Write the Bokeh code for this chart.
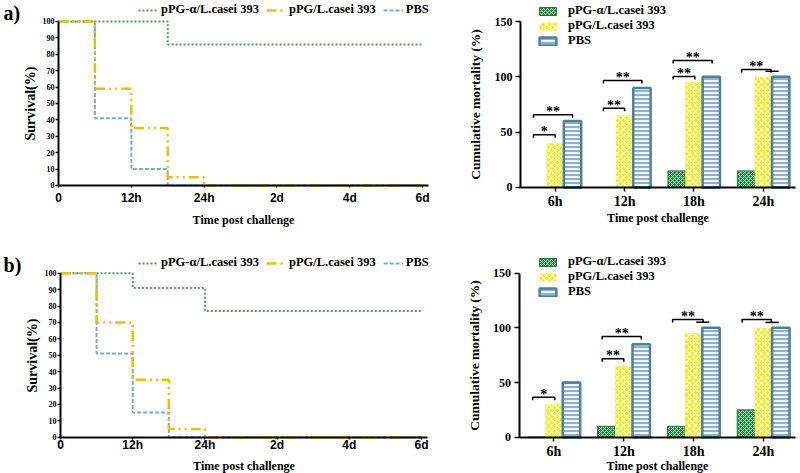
import numpy as np
from bokeh.plotting import figure
from bokeh.models import Range1d, FixedTicker, Legend, LegendItem, Label
from bokeh.layouts import column, row
from bokeh.embed import file_html
from bokeh.resources import INLINE
from bokeh.core.properties import value

SERIES = ["pPG-\u03b1/L.casei 393", "pPG/L.casei 393", "PBS"]
PANEL_TAGS = ["a)", "b)"]

# ---------------- survival curves (hours, survival %) ----------------
axis_hours = [0, 12, 24, 48, 96, 144]
axis_labels = ["0", "12h", "24h", "2d", "4d", "6d"]

a_green_t = [0, 18, 146]
a_green_s = [100, 86, 86]
a_yellow_t = [0, 6, 12, 18, 24, 146]
a_yellow_s = [100, 59, 35, 5, 0, 0]
a_blue_t = [0, 6, 12, 18, 146]
a_blue_s = [100, 41, 10, 0, 0]

b_green_t = [0, 12, 24, 146]
b_green_s = [100, 91, 77, 77]
b_yellow_t = [0, 6, 12, 18, 24, 146]
b_yellow_s = [100, 70, 35, 5, 0, 0]
b_blue_t = [0, 6, 12, 18, 146]
b_blue_s = [100, 51, 15, 0, 0]

# ---------------- cumulative mortality bars ----------------
bar_times = ["6h", "12h", "18h", "24h"]
a_green = [0, 0, 15, 15]
a_yellow = [40, 65, 95, 100]
a_pbs = [60, 90, 100, 100]
b_green = [0, 10, 10, 25]
b_yellow = [30, 65, 95, 100]
b_pbs = [50, 85, 100, 100]

# significance brackets: (group, from series pos, to series pos, height, label, end ticks)
a_brackets = [(0, -0.25, 1.0, 47.6, "*", True), (0, -0.25, 2.0, 65.7, "**", True),
              (1, -0.22, 1.0, 71.6, "**", True), (1, -0.22, 2.0, 96.7, "**", True),
              (2, -0.2, 1.05, 100.3, "**", True), (2, -0.2, 2.05, 114.7, "**", True),
              (3, -0.25, 1.44, 106.6, "**", True), (3, 1.12, 1.88, 105.0, "", False)]
b_brackets = [(0, -0.22, 1.05, 36.6, "*", True),
              (1, -0.24, 1.0, 71.7, "**", True), (1, -0.24, 2.0, 92.1, "**", True),
              (2, -0.2, 1.55, 107.7, "**", True), (2, 1.15, 1.9, 105.2, "", False),
              (3, -0.22, 1.46, 107.7, "**", True), (3, 1.12, 1.88, 105.0, "", False)]

SERIF = "Liberation Serif"
SANS = "Liberation Sans"
LINE_GREEN = "#4f9d5f"
LINE_YELLOW = "#f0c000"
LINE_BLUE = "#78a9dc"


def hpos(t):
    return np.interp(t, axis_hours, np.arange(len(axis_hours)))


def base_figure(width, height, xr, yr):
    p = figure(width=width, height=height, output_backend="svg", toolbar_location=None,
               x_range=Range1d(*xr), y_range=Range1d(*yr), min_border=0,
               min_border_left=0, min_border_right=0, min_border_top=0, min_border_bottom=0)
    p.grid.visible = False
    p.outline_line_color = None
    p.background_fill_color = "white"
    p.border_fill_color = "white"
    for ax in (p.xaxis, p.yaxis):
        ax.axis_line_color = "black"
        ax.axis_line_width = 2
        ax.major_tick_line_color = "black"
        ax.major_tick_line_width = 1.5
        ax.minor_tick_line_color = None
        ax.major_tick_in = 0
        ax.axis_label_text_font = SERIF
        ax.axis_label_text_font_style = "bold"
        ax.axis_label_text_color = "black"
        ax.major_label_text_color = "black"
        ax.major_label_text_font_style = "bold"
    return p


def survival_panel(green, yellow, blue, width, height, xr, yr, xstand, legend_loc, tag_xy, tag):
    p = base_figure(width, height, xr, yr)
    rg = p.step(x=hpos(green[0]), y=green[1], mode="after", line_color=LINE_GREEN,
                line_width=2, line_dash="2 2")
    rb = p.step(x=hpos(blue[0]), y=blue[1], mode="after", line_color=LINE_BLUE,
                line_width=2, line_dash="4 2")
    ry = p.step(x=hpos(yellow[0]), y=yellow[1], mode="after", line_color=LINE_YELLOW,
                line_width=2.5, line_dash="10 4 2 4 2 4")
    p.yaxis.fixed_location = 0
    p.yaxis.ticker = FixedTicker(ticks=list(range(0, 101, 10)))
    p.yaxis.bounds = (0, 100)
    p.yaxis.major_tick_out = 3
    p.yaxis.major_label_standoff = 1
    p.yaxis.major_label_text_font = SERIF
    p.yaxis.major_label_text_font_size = "8px"
    p.yaxis.axis_label = "Survival(%)"
    p.yaxis.axis_label_text_font_size = "14px"
    p.yaxis.axis_label_standoff = 2
    p.xaxis.fixed_location = 0
    p.xaxis.bounds = (0, 5.08)
    p.xaxis.ticker = FixedTicker(ticks=list(range(len(axis_labels))))
    p.xaxis.major_label_overrides = {i: lab for i, lab in enumerate(axis_labels)}
    p.xaxis.major_tick_out = 2
    p.xaxis.major_label_text_font = SANS
    p.xaxis.major_label_text_font_size = "12px"
    p.xaxis.major_label_standoff = xstand[0]
    p.xaxis.axis_label = "Time post challenge"
    p.xaxis.axis_label_text_font_size = "12px"
    p.xaxis.axis_label_standoff = xstand[1]
    legend = Legend(items=[LegendItem(label=SERIES[0], renderers=[rg]),
                           LegendItem(label=SERIES[1], renderers=[ry]),
                           LegendItem(label=SERIES[2], renderers=[rb])],
                    orientation="horizontal", location=legend_loc, margin=0, padding=0,
                    spacing=7, glyph_width=20, glyph_height=12, label_standoff=3,
                    background_fill_alpha=0, border_line_alpha=0,
                    label_text_font=SERIF, label_text_font_style="bold",
                    label_text_font_size="12.5px", label_text_color="black")
    p.add_layout(legend)
    p.add_layout(Label(x=tag_xy[0], y=tag_xy[1], text=tag, text_font=SERIF,
                       text_font_style="bold", text_font_size="20px",
                       text_baseline="middle", text_color="black"))
    return p


def bar_panel(green, yellow, pbs, brackets, width, height, xr, yr, xstand, legend_loc, px_per_unit):
    p = base_figure(width, height, xr, yr)
    idx = np.arange(len(bar_times))
    w = 0.25
    rg = p.vbar(x=idx - w, top=green, width=w, bottom=0, fill_color="#2e8b4e",
                line_color="#2a7040", line_width=1, hatch_pattern="diagonal_cross",
                hatch_color="#a6d8b0", hatch_scale=4, hatch_weight=1)
    ry = p.vbar(x=idx, top=yellow, width=w, bottom=0, fill_color="#f0ec1c",
                line_color=None, hatch_pattern="diagonal_cross",
                hatch_color="#fffce0", hatch_scale=6, hatch_weight=1.2)
    rp = p.vbar(x=idx + w, top=pbs, width=w, bottom=0, fill_color="#f2f6fa",
                line_color="#4e7f9b", line_width=2.5, hatch_pattern="horizontal_line",
                hatch_color="#6b9bbb", hatch_scale=4, hatch_weight=1.5)
    tick = 3.0 / px_per_unit
    xs, ys, tx, ty, tt = [], [], [], [], []
    for g, s1, s2, h, lab, ticks in brackets:
        x1 = g + (s1 - 1) * w
        x2 = g + (s2 - 1) * w
        if ticks:
            xs.append([x1, x1, x2, x2])
            ys.append([h - tick, h, h, h - tick])
        else:
            xs.append([x1, x2])
            ys.append([h, h])
        if lab:
            tx.append((x1 + x2) / 2)
            ty.append(h)
            tt.append(lab)
    p.multi_line(xs=xs, ys=ys, line_color="black", line_width=1.5)
    p.text(x=tx, y=ty, text=tt, text_align="center", text_baseline="middle", y_offset=-3,
           text_font=value(SERIF), text_font_style="bold", text_font_size="14px",
           text_color="black")
    p.yaxis.fixed_location = -0.5
    p.yaxis.ticker = FixedTicker(ticks=[0, 50, 100, 150])
    p.yaxis.bounds = (0, 150)
    p.yaxis.major_tick_out = 5
    p.yaxis.major_label_standoff = 3
    p.yaxis.major_label_text_font = SERIF
    p.yaxis.major_label_text_font_size = "12px"
    p.yaxis.axis_label = "Cumulative mortality (%)"
    p.yaxis.axis_label_text_font_size = "13.5px"
    p.yaxis.axis_label_standoff = 9
    p.xaxis.fixed_location = 0
    p.xaxis.bounds = (-0.5, 3.46)
    p.xaxis.ticker = FixedTicker(ticks=list(idx))
    p.xaxis.major_label_overrides = {int(i): lab for i, lab in zip(idx, bar_times)}
    p.xaxis.major_tick_out = 4
    p.xaxis.major_label_standoff = xstand[0]
    p.xaxis.major_label_text_font = SERIF
    p.xaxis.major_label_text_font_size = "14px"
    p.xaxis.axis_label = "Time post challenge"
    p.xaxis.axis_label_text_font_size = "12px"
    p.xaxis.axis_label_standoff = xstand[1]
    legend = Legend(items=[LegendItem(label=SERIES[0], renderers=[rg]),
                           LegendItem(label=SERIES[1], renderers=[ry]),
                           LegendItem(label=SERIES[2], renderers=[rp])],
                    orientation="vertical", location=legend_loc, margin=0, padding=0,
                    spacing=-1, glyph_width=21, glyph_height=10, label_height=14,
                    label_standoff=10, background_fill_alpha=0, border_line_alpha=0,
                    label_text_font=SERIF, label_text_font_style="bold",
                    label_text_font_size="12.5px", label_text_color="black")
    p.add_layout(legend)
    return p


p1 = survival_panel((a_green_t, a_green_s), (a_yellow_t, a_yellow_s), (a_blue_t, a_blue_s),
                    440, 236, (-0.797, 5.247), (-31.10, 112.80), (4, 4), (138, 219),
                    (-0.755, 105.2), PANEL_TAGS[0])
p2 = bar_panel(a_green, a_yellow, a_pbs, a_brackets, 360, 236, (-1.653, 3.535),
               (-44.28, 168.98), (3, -2), (97, 188), 1.107)
p3 = survival_panel((b_green_t, b_green_s), (b_yellow_t, b_yellow_s), (b_blue_t, b_blue_s),
                    440, 237, (-0.831, 5.263), (-22.13, 122.38), (-1, 3), (138, 203),
                    (-0.789, 105.3), PANEL_TAGS[1])
p4 = bar_panel(b_green, b_yellow, b_pbs, b_brackets, 360, 237, (-1.626, 3.532),
               (-33.2, 183.57), (3, -4), (97, 174), 1.093)

layout = column(row(p1, p2), row(p3, p4))
open("out.html", "w").write(file_html(layout, INLINE))
